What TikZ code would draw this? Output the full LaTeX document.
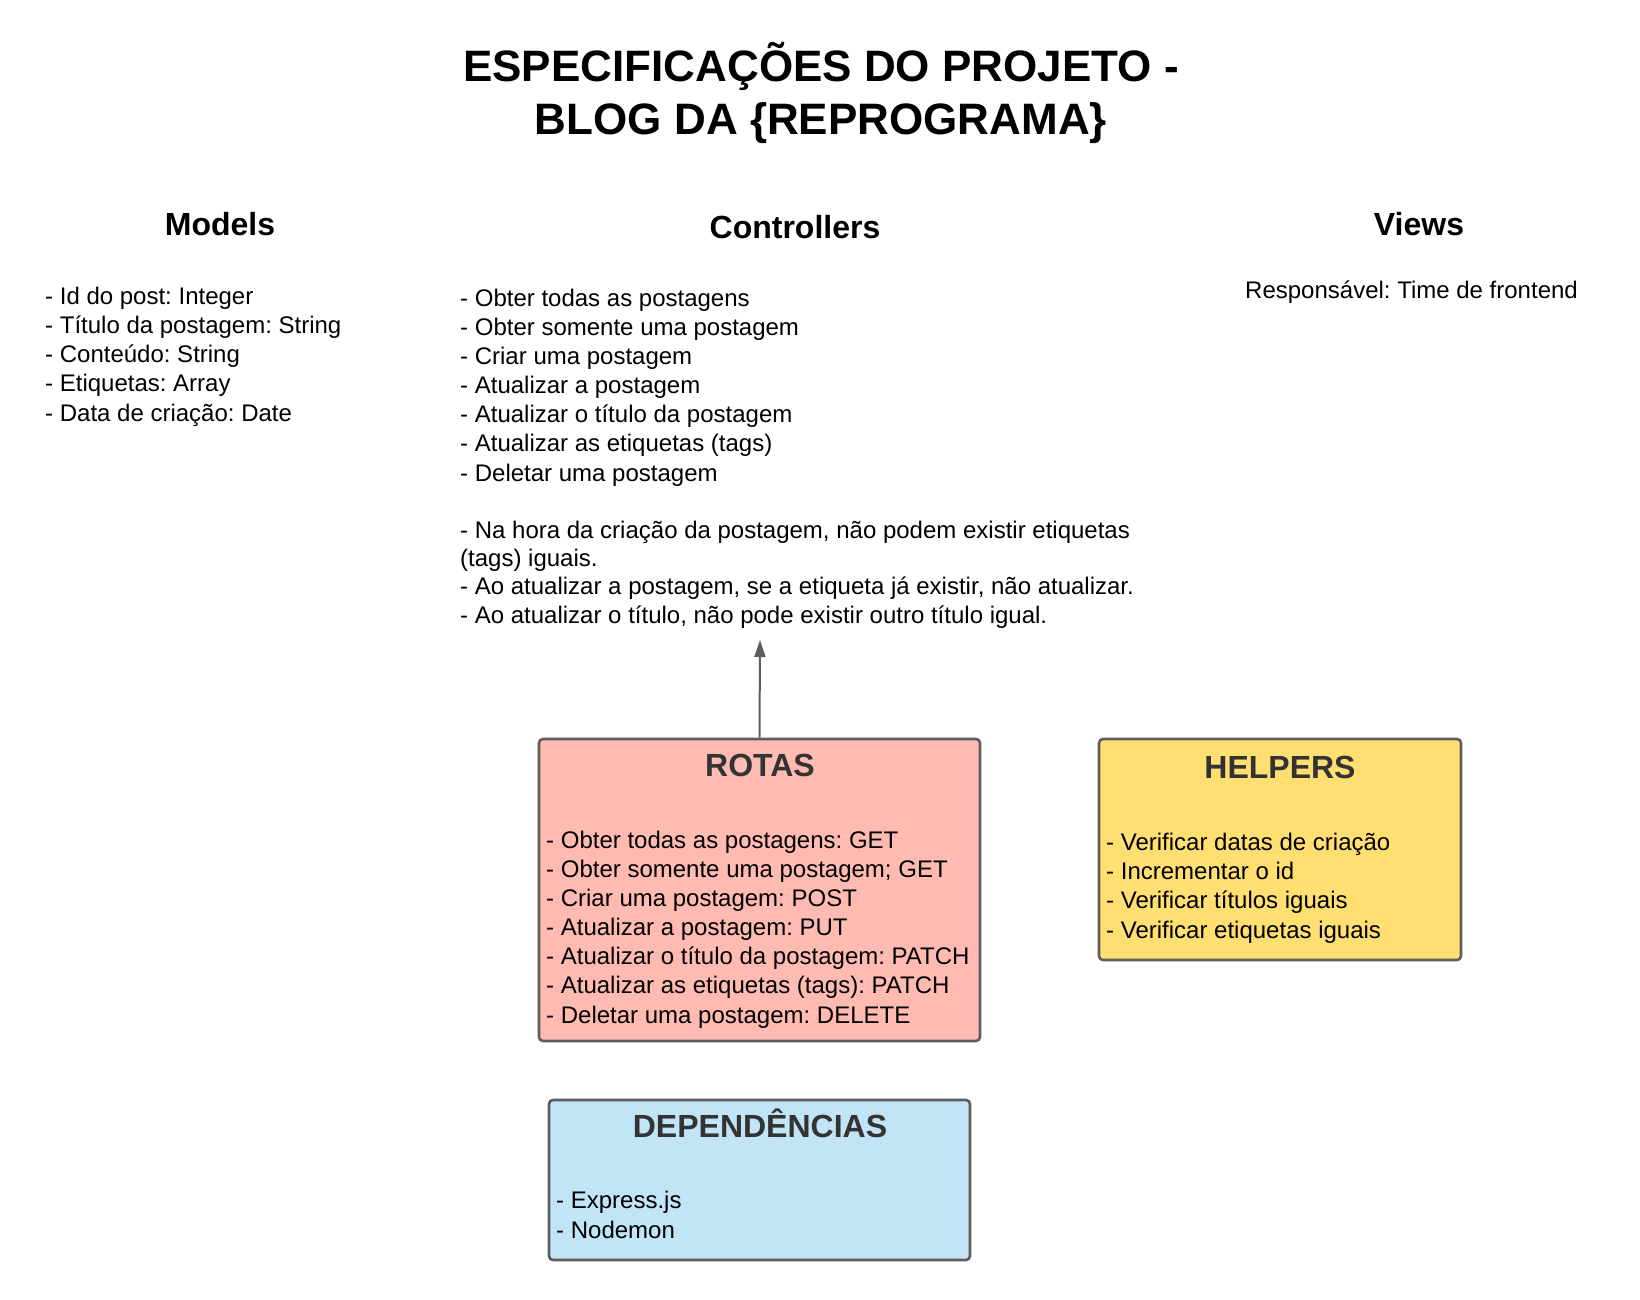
\documentclass[tikz,border=0pt]{standalone}
\usepackage{fontspec}
\setmainfont{Liberation Sans}
\usetikzlibrary{arrows.meta}
\definecolor{rotasfill}{HTML}{FFBBB1}
\definecolor{helpfill}{HTML}{FFDF71}
\definecolor{depfill}{HTML}{C1E4F7}
\definecolor{edgegray}{HTML}{5E5E5E}
\definecolor{titlegray}{HTML}{333333}
\frenchspacing
\begin{document}
\begin{tikzpicture}[x=1pt,y=-1pt,
  maintitle/.style={align=center,font=\fontsize{44}{53}\selectfont\bfseries,inner sep=0pt},
  heading/.style={font=\fontsize{32}{38}\selectfont\bfseries,inner sep=0pt},
  bodytext/.style={align=left,anchor=base west,font=\fontsize{24}{29.1}\selectfont\frenchspacing,inner sep=0pt},
  card/.style={draw=edgegray,line width=2.6pt,rounded corners=4pt},
  cardtitle/.style={font=\fontsize{32}{38}\selectfont\bfseries,text=titlegray,inner sep=0pt},
  conn/.style={draw=edgegray,line width=2pt,-{Triangle[length=17pt,width=11pt]}}
]
\useasboundingbox (0,0) rectangle (1640,1300);
\fill[white] (0,0) rectangle (1640,1300);

\node[maintitle] (title) at (821,92.5) {ESPECIFICAÇÕES DO PROJETO -\\BLOG DA \{REPROGRAMA\}};

\node[heading] (models) at (220,224) {Models};
\node[heading] (controllers) at (795,227) {Controllers};
\node[heading] (views) at (1419,224) {Views};

\node[bodytext] (modelslist) at (45,421) {- Id do post: Integer\\- Título da postagem: String\\- Conteúdo: String\\- Etiquetas: Array\\- Data de criação: Date};

\node[bodytext] (ctrllist) at (460,481) {- Obter todas as postagens\\- Obter somente uma postagem\\- Criar uma postagem\\- Atualizar a postagem\\- Atualizar o título da postagem\\- Atualizar as etiquetas (tags)\\- Deletar uma postagem};
\node[bodytext,font=\fontsize{24}{28.3}\selectfont\frenchspacing] (ctrlnotes) at (460,623) {- Na hora da criação da postagem, não podem existir etiquetas\\(tags) iguais.\\- Ao atualizar a postagem, se a etiqueta já existir, não atualizar.\\- Ao atualizar o título, não pode existir outro título igual.};

\node[bodytext] (viewstext) at (1245,298) {Responsável: Time de frontend};

\node[card,fill=rotasfill,minimum width=441pt,minimum height=302pt] (rotas) at (759.5,890) {};
\node[cardtitle] (rotastitle) at (760,765) {ROTAS};
\node[bodytext] (rotaslist) at (546,1023) {- Obter todas as postagens: GET\\- Obter somente uma postagem; GET\\- Criar uma postagem: POST\\- Atualizar a postagem: PUT\\- Atualizar o título da postagem: PATCH\\- Atualizar as etiquetas (tags): PATCH\\- Deletar uma postagem: DELETE};

\node[card,fill=helpfill,minimum width=362pt,minimum height=221pt] (helpers) at (1280,849.5) {};
\node[cardtitle] (helperstitle) at (1280,767) {HELPERS};
\node[bodytext] (helperslist) at (1106,938) {- Verificar datas de criação\\- Incrementar o id\\- Verificar títulos iguais\\- Verificar etiquetas iguais};

\node[card,fill=depfill,minimum width=421pt,minimum height=160pt] (dep) at (759.5,1180) {};
\node[cardtitle] (deptitle) at (760,1123) {DEPENDÊNCIAS};
\node[bodytext] (deplist) at (556,1238) {- Express.js\\- Nodemon};

\coordinate (tip) at (760,640);
\draw[conn] (rotas.north) -- (tip);
\end{tikzpicture}
\end{document}
